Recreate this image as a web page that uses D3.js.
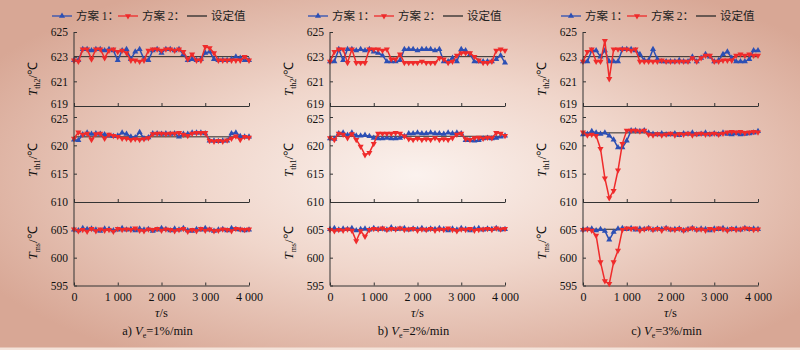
<!DOCTYPE html>
<html><head><meta charset="utf-8">
<script src="https://cdn.jsdelivr.net/npm/d3@7"></script>
<style>html,body{margin:0;padding:0;background:#fff}svg{display:block}</style>
</head><body>
<script>
// ---------- DATA ----------
const timeS = [0,100,200,300,400,500,600,700,800,900,1000,1100,1200,1300,1400,1500,1600,1700,1800,1900,2000,2100,2200,2300,2400,2500,2600,2700,2800,2900,3000,3100,3200,3300,3400,3500,3600,3700,3800,3900,4000];
const xTicks = [0,1000,2000,3000,4000];
const xTickLabels = ["0","1 000","2 000","3 000","4 000"];
const yTicksTop = [619,621,623,625];
const yTicksMid = [610,615,620,625];
const yTicksBot = [595,600,605];
const subLabels = ["th2","th1","ms"];
const captionLetters = ["a)","b)","c)"];
const captionRates = ["=1%/min","=2%/min","=3%/min"];
const legendNames = ["方案 1：","方案 2：","设定值"];
const setTop = [623.0,623.0,623.0];
const setMid = [621.5,621.6,622.2];
const setBot = [605.0,605.0,605.1];

// panel a (Ve=1%/min)
const a_th2_s1 = [622.7,622.7,623.6,623.6,623.5,623.6,623.6,623.5,623.6,623.5,622.7,623.5,623.6,622.8,623.4,623.6,622.8,622.7,623.5,623.6,623.3,623.6,623.6,623.5,623.6,623.2,622.7,622.8,622.7,622.8,623.3,623.4,622.8,622.7,622.7,622.7,622.8,623.0,622.9,622.7,622.7];
const a_th2_s2 = [622.7,622.6,623.6,623.6,622.8,623.6,623.6,622.9,623.5,623.6,623.4,623.5,623.3,622.7,622.7,622.6,622.7,623.5,623.6,623.6,623.5,623.6,623.6,623.5,623.6,623.4,622.8,623.2,622.7,622.7,623.8,623.7,623.3,622.7,622.7,622.7,622.7,622.7,622.7,623.0,622.7];
const a_th1_s1 = [621.0,620.9,621.9,622.2,622.0,622.1,622.0,621.9,621.7,621.6,621.7,622.2,622.0,621.5,621.4,622.3,621.2,621.4,622.1,622.1,622.0,622.1,622.0,622.1,621.5,622.0,622.0,622.2,622.2,622.2,622.1,620.8,620.8,620.7,620.8,620.8,622.1,622.2,621.6,621.5,621.5];
const a_th1_s2 = [621.2,622.3,621.9,622.1,621.0,622.0,622.1,621.2,621.9,621.7,621.5,621.2,621.2,621.0,621.1,621.0,621.1,621.3,622.0,622.1,622.1,622.0,622.1,622.1,622.2,621.9,621.7,622.1,622.2,622.2,622.2,620.8,620.7,620.8,620.7,620.9,621.2,621.6,621.0,621.5,621.4];
const a_ms_s1 = [605.0,604.9,605.3,605.1,605.2,605.0,604.8,605.2,605.1,604.9,605.0,605.3,605.0,605.1,604.9,605.2,605.0,605.1,604.8,605.0,605.3,605.1,604.9,605.2,605.0,605.3,604.9,604.8,605.1,605.0,605.3,605.0,604.8,605.0,605.1,604.9,605.3,605.1,605.0,604.9,605.0];
const a_ms_s2 = [605.1,604.8,605.0,604.7,605.2,604.8,605.1,604.9,605.0,604.7,605.2,605.0,605.1,605.0,605.3,604.9,604.8,605.1,605.0,605.2,604.9,605.1,605.0,604.8,605.0,605.2,604.7,605.0,604.8,605.2,604.9,605.1,604.8,604.9,605.1,605.0,604.8,605.2,605.1,605.0,605.1];

// panel b (Ve=2%/min)
const b_th2_s1 = [622.6,622.6,623.6,622.7,623.6,623.6,623.5,623.6,623.5,623.6,623.4,623.3,623.1,622.6,622.6,622.6,622.7,623.6,623.6,623.6,623.5,623.6,623.6,623.6,623.5,623.6,622.6,622.6,622.9,622.6,623.6,623.5,623.2,622.6,622.6,622.6,622.6,622.6,622.8,623.1,622.5];
const b_th2_s2 = [622.6,623.4,623.6,623.6,622.5,623.6,622.5,622.5,622.5,623.6,623.6,623.6,623.5,623.6,622.8,622.8,623.2,622.5,622.5,622.5,622.5,622.6,622.5,622.5,622.5,622.9,622.8,622.5,622.6,623.1,623.3,623.3,623.3,623.0,622.7,622.5,622.5,622.6,623.5,623.6,623.5];
const b_th1_s1 = [621.2,621.1,622.1,622.2,621.8,622.2,621.7,621.7,621.8,621.6,621.3,621.2,621.2,621.3,621.2,621.2,621.3,621.6,622.1,622.1,622.2,622.1,622.1,622.2,622.1,622.1,622.0,622.2,622.1,622.2,622.1,620.9,620.9,620.8,620.9,621.2,621.3,621.2,621.3,621.5,621.7];
const b_th1_s2 = [621.3,621.0,622.1,621.9,621.3,622.0,621.0,619.8,618.3,618.7,620.3,622.1,622.1,622.1,622.1,622.2,622.1,621.6,621.1,621.0,621.2,621.0,621.1,621.0,621.3,621.0,621.1,621.0,621.3,621.9,622.1,621.1,621.0,621.3,621.4,621.2,621.4,621.3,622.2,622.1,621.7];
const b_ms_s1 = [605.1,605.3,605.0,605.2,605.1,605.3,604.9,605.1,605.2,605.0,605.3,605.1,605.2,605.0,605.4,605.1,605.2,605.3,605.0,605.2,605.1,605.3,605.0,605.2,605.1,605.3,605.1,604.9,605.2,605.0,605.3,605.1,604.9,605.2,605.3,605.0,605.2,605.1,605.3,605.0,605.1];
const b_ms_s2 = [605.0,604.8,605.0,604.9,605.1,604.9,603.0,604.8,603.8,605.0,605.2,605.1,605.3,605.0,605.2,605.1,605.3,605.0,605.1,605.2,604.9,605.1,605.0,605.2,604.9,605.1,605.0,605.3,605.0,604.8,605.1,605.0,605.2,604.9,605.0,605.1,605.2,605.0,605.3,605.1,605.2];

// panel c (Ve=3%/min)
const c_th2_s1 = [622.6,622.6,623.5,623.5,623.0,623.5,622.6,622.6,622.6,623.6,623.6,623.6,623.5,623.2,622.7,622.7,623.6,622.8,622.6,622.6,622.6,622.6,622.7,622.6,622.6,623.0,622.6,622.9,623.2,623.0,622.6,622.7,623.2,623.4,622.9,622.6,622.6,622.6,622.8,623.5,623.5];
const c_th2_s2 = [622.6,623.4,623.6,622.6,622.6,624.3,621.2,623.6,623.6,623.6,623.6,623.5,623.6,622.6,622.6,622.6,622.6,622.6,622.7,622.6,622.6,622.6,622.6,622.6,622.6,622.9,622.6,622.9,623.1,623.1,622.6,622.6,622.7,622.7,622.7,623.1,623.2,623.1,623.2,623.1,623.1];
const c_th1_s1 = [621.9,622.0,622.5,622.2,622.0,622.2,621.7,621.0,619.6,619.6,620.8,622.6,622.6,622.5,622.6,622.2,622.0,621.9,622.1,621.9,621.9,622.1,621.8,622.1,622.0,622.2,621.9,622.0,622.2,621.9,622.1,621.9,622.2,622.0,621.9,622.1,621.9,622.0,622.1,622.2,622.5];
const c_th1_s2 = [622.3,621.8,621.9,621.7,619.4,614.2,610.7,612.0,615.6,620.3,622.6,622.6,622.6,622.5,622.6,621.9,621.8,622.0,621.8,621.9,622.1,621.8,622.0,621.9,622.1,621.8,622.0,622.1,621.9,622.0,622.1,621.9,622.1,622.3,622.4,622.3,622.4,622.2,622.3,622.4,622.3];
const c_ms_s1 = [605.0,605.1,605.2,604.9,605.1,604.8,603.2,604.6,605.2,605.3,605.1,605.3,605.0,605.2,605.1,605.3,605.0,605.2,605.1,605.3,605.0,605.1,605.2,604.9,605.1,605.3,605.0,605.2,605.1,604.9,605.2,605.1,605.3,605.0,605.1,605.2,605.0,605.3,605.1,605.2,605.1];
const c_ms_s2 = [605.0,605.1,604.9,604.0,599.2,595.8,595.3,599.2,601.3,605.0,605.3,605.2,605.3,604.9,605.1,605.3,605.0,605.2,604.9,605.3,605.1,605.0,605.2,604.9,605.1,605.3,605.0,605.1,604.9,605.2,605.0,605.3,605.1,604.9,605.2,605.0,605.1,605.3,605.2,605.0,605.1];

// ---------- DRAW ----------
const S1 = [[a_th2_s1,a_th1_s1,a_ms_s1],[b_th2_s1,b_th1_s1,b_ms_s1],[c_th2_s1,c_th1_s1,c_ms_s1]];
const S2 = [[a_th2_s2,a_th1_s2,a_ms_s2],[b_th2_s2,b_th1_s2,b_ms_s2],[c_th2_s2,c_th1_s2,c_ms_s2]];
const SET = [setTop,setMid,setBot];
const yTickSets = [yTicksTop,yTicksMid,yTicksBot];

const BLUE = "#2c4fb4", RED = "#ef2b2b", SETC = "#2a2a2a", AX = "#333";
const FONT = "'Liberation Serif','Times New Roman',serif";
const CJK = "'Liberation Serif','Noto Sans CJK SC',serif";

const svg = d3.select("body").append("svg").attr("width",800).attr("height",350);
const defs = svg.append("defs");
const g = defs.append("radialGradient").attr("id","bg").attr("cx","52%").attr("cy","50%").attr("r","62%");
g.append("stop").attr("offset","0").attr("stop-color","#fbf2ee");
g.append("stop").attr("offset","0.45").attr("stop-color","#f0d6cb");
g.append("stop").attr("offset","1").attr("stop-color","#d8a795");
svg.append("rect").attr("width",800).attr("height",350).attr("fill","url(#bg)");
svg.append("rect").attr("y",347.5).attr("width",800).attr("height",2.5).attr("fill","#f4e3da");

const xLeft = [74,330,583];
const W = 175;
const subDomains = [[619,625],[610,625],[595,610]];
const subRanges = [[106,32],[202,117],[285.5,202]];
const labelY = [79,160,243];

const triUp = d3.symbol().type(d3.symbolTriangle).size(16)();

for (let p = 0; p < 3; p++) {
  const x0 = xLeft[p];
  const pg = svg.append("g").attr("transform", `translate(${x0},0)`);
  const x = d3.scaleLinear().domain([0,4000]).range([0,W]);

  for (let s = 0; s < 3; s++) {
    const y = d3.scaleLinear().domain(subDomains[s]).range(subRanges[s]);
    // y axis ticks
    const ya = pg.append("g").call(d3.axisLeft(y).tickValues(yTickSets[s]).tickSize(-3).tickSizeOuter(0).tickPadding(6).tickFormat(d3.format("d")));
    ya.select(".domain").remove();
    ya.selectAll("line").attr("stroke",AX);
    ya.selectAll("text").attr("font-family",FONT).attr("font-size",11.5).attr("fill","#111");
    // nudge the adjoining 619 / 625 labels apart
    if (s === 0) ya.selectAll("text").filter(d => d === 619).attr("dy","0.1em");
    if (s === 1) ya.selectAll("text").filter(d => d === 625).attr("dy","0.45em");
    // x axis
    const xa = pg.append("g").attr("transform",`translate(0,${y(subDomains[s][0])})`)
      .call(d3.axisBottom(x).tickValues(xTicks).tickSize(-3).tickSizeOuter(0).tickPadding(7)
        .tickFormat((d,i) => s === 2 ? xTickLabels[i] : ""));
    xa.select(".domain").attr("stroke",AX).attr("stroke-width",1);
    xa.selectAll("line").attr("stroke",AX);
    xa.selectAll("text").attr("font-family",FONT).attr("font-size",12).attr("fill","#111");

    // set value line
    pg.append("line").attr("x1",x(0)).attr("x2",x(4000))
      .attr("y1",y(SET[s][p])).attr("y2",y(SET[s][p]))
      .attr("stroke",SETC).attr("stroke-width",1);

    const line = d3.line().x((d,i)=>x(timeS[i])).y(d=>y(d));
    [[S1[p][s],BLUE,0],[S2[p][s],RED,180]].forEach(([data,col,rot]) => {
      pg.append("path").datum(data).attr("d",line).attr("fill","none")
        .attr("stroke",col).attr("stroke-width",1.5).attr("stroke-linejoin","round");
      pg.append("g").selectAll("path").data(data).join("path")
        .attr("d",triUp)
        .attr("transform",(d,i)=>`translate(${x(timeS[i])},${y(d)}) rotate(${rot})`)
        .attr("fill",col);
    });

    // y label
    const t = pg.append("text").attr("transform",`translate(-37,${labelY[s]}) rotate(-90)`)
      .attr("text-anchor","middle").attr("font-family",FONT).attr("font-size",13).attr("fill","#111");
    t.append("tspan").attr("font-style","italic").text("T");
    t.append("tspan").attr("font-size",8).attr("dy",3).text(subLabels[s]);
    t.append("tspan").attr("dy",-3).text("/℃");
  }

  // continuous y axis line
  pg.append("line").attr("x1",0).attr("x2",0).attr("y1",subRanges[0][1]).attr("y2",subRanges[2][0])
    .attr("stroke",AX).attr("stroke-width",1);

  // x title
  const xt = pg.append("text").attr("x",W/2).attr("y",317).attr("text-anchor","middle")
    .attr("font-family",FONT).attr("font-size",12.5).attr("fill","#111");
  xt.append("tspan").attr("font-style","italic").text("τ");
  xt.append("tspan").text("/s");

  // caption
  const cap = pg.append("text").attr("x",W/2 - 4).attr("y",335).attr("text-anchor","middle")
    .attr("font-family",FONT).attr("font-size",12.5).attr("fill","#111");
  cap.append("tspan").text(captionLetters[p] + " ");
  cap.append("tspan").attr("font-style","italic").text("V");
  cap.append("tspan").attr("font-size",8).attr("dy",3).text("e");
  cap.append("tspan").attr("dy",-3).text(captionRates[p]);

  // legend
  const lg = pg.append("g").attr("transform","translate(-22,16)");
  const items = [[BLUE,0,0],[RED,66,180],[SETC,135,null]];
  items.forEach(([col,off,rot],k) => {
    lg.append("line").attr("x1",off).attr("x2",off+20).attr("y1",0).attr("y2",0)
      .attr("stroke",col).attr("stroke-width",1.3);
    if (rot !== null) {
      lg.append("path").attr("d",triUp).attr("transform",`translate(${off+10},0) rotate(${rot})`).attr("fill",col);
    }
    lg.append("text").attr("x",off+24).attr("y",4).attr("font-family",CJK).attr("font-size",11.5)
      .attr("fill","#222").text(legendNames[k]);
  });
}
</script>
</body></html>
